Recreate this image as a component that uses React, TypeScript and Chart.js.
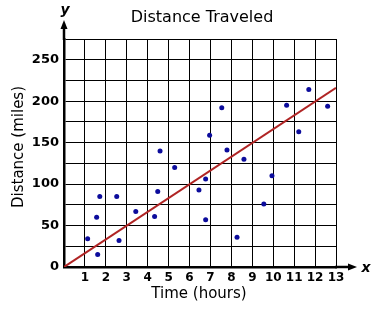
import React, { useEffect, useRef } from "react";
import { Chart, registerables } from "chart.js";

Chart.register(...registerables);

const titleText = "Distance Traveled";
const xTitle = "Time (hours)";
const yTitle = "Distance (miles)";

const hours = [1.13, 1.61, 1.56, 1.71, 2.52, 2.63, 3.43, 4.33, 4.48, 4.59, 5.29, 6.45, 6.77, 6.77, 6.96, 7.54, 7.79, 8.6, 8.27, 9.55, 9.94, 10.64, 11.22, 11.7, 12.6];
const miles = [34, 15, 60, 85, 85, 32, 67, 61, 91, 140, 120, 93, 106, 57, 159, 192, 141, 130, 36, 76, 110, 195, 163, 214, 194];

const trendHours = [0, 13];
const trendMiles = [0, 216];

const xMin = 0;
const xMax = 13;
const yMin = 0;
const yMax = 275;
const yStep = 25;
const yLabelStep = 50;

const FONT = "'DejaVu Sans', Verdana, sans-serif";

const decor = {
  id: "decor",
  afterDraw(chart: any) {
    const ctx = chart.ctx as CanvasRenderingContext2D;
    const a = chart.chartArea;
    ctx.save();
    ctx.strokeStyle = "#000";
    ctx.fillStyle = "#000";
    // y axis extension + arrow
    ctx.lineWidth = 2.5;
    ctx.beginPath();
    ctx.moveTo(a.left, a.top + 1);
    ctx.lineTo(a.left, 27);
    ctx.stroke();
    ctx.beginPath();
    ctx.moveTo(a.left, 20);
    ctx.lineTo(a.left - 3.5, 29);
    ctx.lineTo(a.left + 3.5, 29);
    ctx.closePath();
    ctx.fill();
    // x axis extension + arrow
    ctx.beginPath();
    ctx.moveTo(a.right - 1, a.bottom);
    ctx.lineTo(350, a.bottom);
    ctx.stroke();
    ctx.beginPath();
    ctx.moveTo(357, a.bottom);
    ctx.lineTo(348, a.bottom - 3.5);
    ctx.lineTo(348, a.bottom + 3.5);
    ctx.closePath();
    ctx.fill();
    // axis letters
    ctx.textAlign = "center";
    ctx.textBaseline = "middle";
    ctx.font = `italic bold 14px ${FONT}`;
    ctx.fillText("y", a.left + 1, 10);
    ctx.fillText("x", 366, a.bottom + 1);
    // title
    ctx.font = `16px ${FONT}`;
    ctx.fillText(titleText, 202, 18);
    // x title
    ctx.font = `15px ${FONT}`;
    ctx.fillText(xTitle, 199, 294);
    // y title
    ctx.translate(19, 147);
    ctx.rotate(-Math.PI / 2);
    ctx.fillText(yTitle, 0, 0);
    ctx.restore();
  },
};

export default function App() {
  const ref = useRef<HTMLCanvasElement | null>(null);
  useEffect(() => {
    if (!ref.current) return;
    const chart = new Chart(ref.current, {
      type: "scatter",
      data: {
        datasets: [
          {
            type: "line",
            data: trendHours.map((x, i) => ({ x, y: trendMiles[i] })),
            borderColor: "#b02424",
            borderWidth: 2,
            pointRadius: 0,
            fill: false,
          } as any,
          {
            data: hours.map((x, i) => ({ x, y: miles[i] })),
            backgroundColor: "#0c0c9c",
            borderColor: "#0c0c9c",
            pointRadius: 2.5,
            borderWidth: 0,
          },
        ],
      },
      options: {
        responsive: false,
        animation: false,
        devicePixelRatio: 1,
        layout: { padding: { top: 39, right: 51, left: 0, bottom: 0 } },
        plugins: { legend: { display: false }, tooltip: { enabled: false }, title: { display: false } },
        scales: {
          x: {
            type: "linear",
            min: xMin,
            max: xMax,
            afterFit: (s: any) => { s.height = 48; },
            grid: { color: "#000", lineWidth: 1, drawTicks: false },
            border: { display: true, color: "#000", width: 2.5 },
            ticks: {
              stepSize: 1,
              autoSkip: false,
              maxRotation: 0,
              padding: 4,
              color: "#000",
              font: { family: FONT, size: 12, weight: "bold" },
              callback: (v: any) => (v === 0 ? "" : String(v)),
            },
          },
          y: {
            type: "linear",
            min: yMin,
            max: yMax,
            afterFit: (s: any) => { s.width = 64; },
            grid: { color: "#000", lineWidth: 1, drawTicks: false },
            border: { display: true, color: "#000", width: 2.5 },
            ticks: {
              stepSize: yStep,
              autoSkip: false,
              padding: 5,
              color: "#000",
              font: { family: FONT, size: 13, weight: "bold" },
              callback: (v: any) => (v % yLabelStep === 0 && v < yMax ? String(v) : ""),
            },
          },
        },
      },
      plugins: [decor],
    });
    return () => chart.destroy();
  }, []);
  return (
    <div style={{ position: "fixed", left: 0, top: 0, width: 387, height: 315, background: "#fff" }}>
      <canvas ref={ref} width={387} height={315} style={{ width: 387, height: 315, display: "block" }} />
    </div>
  );
}
